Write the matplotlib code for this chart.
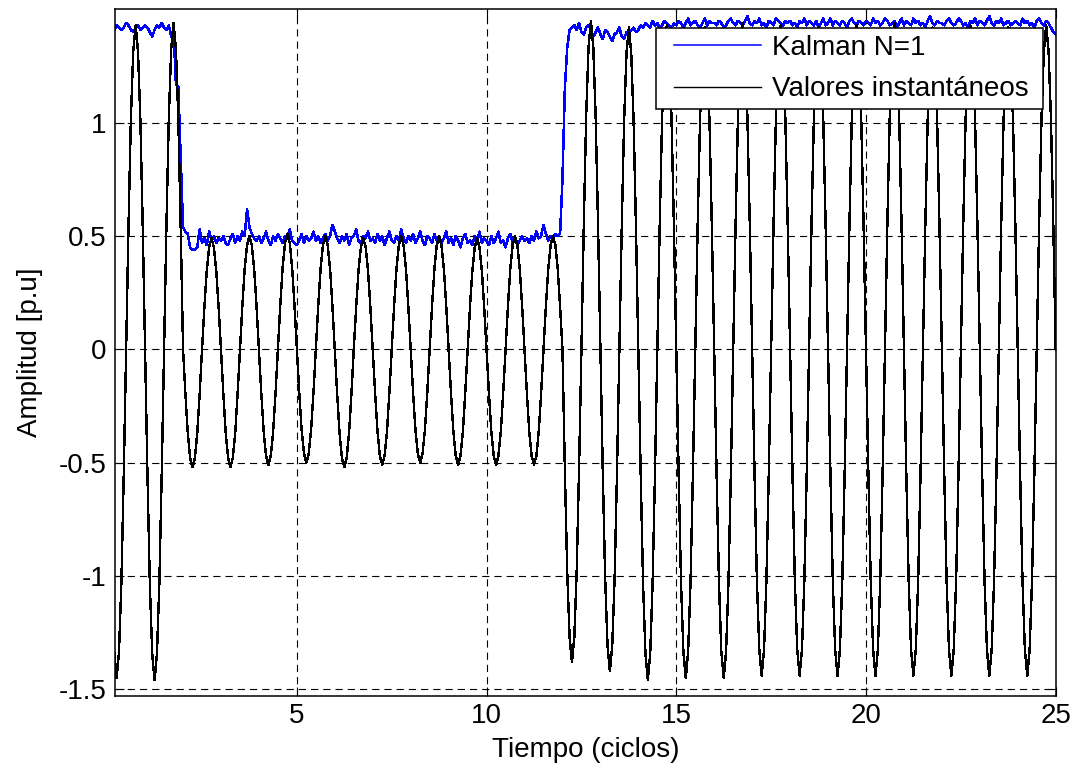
import numpy as np
import matplotlib.pyplot as plt
from matplotlib.legend_handler import HandlerLine2D

plt.rcParams['font.family'] = ['Liberation Sans', 'DejaVu Sans']
plt.rcParams['axes.unicode_minus'] = False
plt.rcParams['lines.scale_dashes'] = False

# 16 muestras por ciclo, 25 ciclos
muestras_ciclo = 16
n_ciclos = 25

# forma relativa de un ciclo (nivel de cada muestra)
forma_ciclo = [0.0, -0.38, -0.71, -0.92, -1.0, -0.92, -0.71, -0.38,
               0.0, 0.38, 0.71, 0.92, 1.0, 0.92, 0.71, 0.38]

# picos positivos y valles de cada ciclo [p.u]
picos = [1.43, 1.44, 0.49, 0.50, 0.51, 0.50, 0.49, 0.50, 0.50, 0.49, 0.50, 0.50,
         1.45, 1.42, 1.43, 1.42, 1.44, 1.43, 1.42, 1.43, 1.44, 1.42, 1.43, 1.42, 1.43]
valles = [-1.45, -1.46, -0.52, -0.52, -0.51, -0.50, -0.52, -0.51, -0.50, -0.51, -0.51, -0.51,
          -1.38, -1.42, -1.46, -1.45, -1.45, -1.44, -1.44, -1.44, -1.44, -1.44, -1.44, -1.44, -1.44]

# estimacion de Kalman (N=1), en centesimas de p.u, una fila por ciclo
kalman_cent = [
    [139, 138, 140, 141, 143, 142, 141, 142, 144, 143, 141, 140, 142, 143, 141, 142],
    [143, 142, 140, 138, 141, 143, 142, 144, 142, 141, 143, 138, 141, 117, 116, 85],
    [54, 52, 51, 45, 44, 44, 45, 53, 47, 49, 46, 52, 48, 50, 47, 49],
    [48, 50, 47, 46, 49, 51, 47, 50, 48, 52, 50, 62, 54, 51, 49, 48],
    [50, 47, 49, 52, 48, 46, 50, 48, 51, 49, 47, 50, 49, 53, 48, 47],
    [46, 48, 51, 47, 50, 48, 49, 52, 48, 50, 47, 49, 51, 48, 50, 55],
    [52, 49, 47, 50, 48, 51, 46, 49, 50, 53, 48, 47, 50, 49, 52, 48],
    [49, 47, 51, 48, 50, 46, 49, 52, 48, 47, 50, 48, 53, 49, 47, 50],
    [48, 51, 47, 49, 52, 48, 46, 50, 49, 47, 51, 48, 50, 47, 49, 52],
    [47, 49, 46, 50, 48, 45, 49, 51, 47, 48, 46, 50, 48, 52, 47, 49],
    [48, 46, 50, 47, 49, 52, 47, 48, 45, 49, 51, 47, 49, 46, 48, 50],
    [48, 49, 47, 50, 48, 52, 49, 50, 55, 51, 48, 50, 49, 51, 50, 51],
    [75, 115, 133, 141, 142, 143, 141, 144, 140, 139, 142, 143, 141, 138, 140, 142],
    [139, 137, 141, 140, 138, 136, 139, 140, 142, 138, 137, 140, 139, 141, 142, 140],
    [141, 143, 142, 144, 143, 142, 145, 143, 144, 142, 143, 145, 144, 143, 142, 144],
    [143, 145, 144, 142, 144, 146, 143, 144, 145, 143, 142, 144, 146, 143, 145, 144],
    [144, 143, 145, 144, 142, 143, 145, 146, 144, 143, 145, 144, 143, 145, 147, 144],
    [143, 145, 144, 146, 143, 144, 142, 145, 144, 143, 146, 145, 144, 143, 145, 144],
    [145, 143, 144, 142, 145, 144, 146, 143, 145, 144, 143, 145, 142, 144, 146, 143],
    [144, 146, 143, 145, 144, 143, 145, 144, 142, 145, 146, 144, 143, 145, 144, 143],
    [145, 144, 143, 146, 144, 145, 143, 144, 146, 145, 143, 144, 145, 142, 144, 146],
    [143, 145, 144, 143, 146, 144, 145, 143, 144, 142, 145, 147, 144, 143, 145, 144],
    [144, 143, 145, 146, 144, 143, 144, 146, 145, 143, 144, 142, 145, 144, 146, 143],
    [145, 144, 143, 145, 147, 144, 143, 145, 144, 146, 143, 144, 145, 143, 144, 145],
    [144, 143, 146, 144, 145, 143, 144, 142, 145, 146, 144, 143, 145, 144, 142, 140, 139],
]

x_ticks = [5, 10, 15, 20, 25]
y_ticks = [-1.5, -1, -0.5, 0, 0.5, 1]
y_etiquetas = ['-1.5', '-1', '-0.5', '0', '0.5', '1']

# valores instantaneos muestra a muestra
valores = []
for k in range(n_ciclos):
    for f in forma_ciclo:
        if f > 0:
            valores.append(f * picos[k])
        else:
            valores.append(f * abs(valles[k]))
valores.append(forma_ciclo[0])
valores = np.array(valores)
kalman = np.concatenate([np.array(fila) for fila in kalman_cent]) / 100.0
t = np.arange(len(valores)) / muestras_ciclo


class LineaDesplazada(HandlerLine2D):
    # deja un margen a la izquierda de la linea de la leyenda
    def create_artists(self, legend, orig_handle, xdescent, ydescent,
                       width, height, fontsize, trans):
        arts = super().create_artists(legend, orig_handle, xdescent, ydescent,
                                      width, height, fontsize, trans)
        for a in arts:
            xd = np.asarray(a.get_xdata(), dtype=float)
            if len(xd) > 1:
                xd[0] = xd[0] + 0.4 * fontsize
                a.set_xdata(xd)
        return arts


fig = plt.figure(figsize=(10.77, 7.68), dpi=100)
ax = fig.add_axes([0.10724, 0.09414, 0.87298, 0.89414])

ax.plot(t, kalman, color='#0000ff', lw=1.1, antialiased=False, label='Kalman N=1')
ax.plot(t, valores, color='black', lw=1.0, antialiased=False, label='Valores instantáneos\u00a0')

ax.set_xlim(0.22, 25.0)
ax.set_ylim(-1.528, 1.502)
ax.set_xticks(x_ticks)
ax.set_yticks(y_ticks, y_etiquetas)
ax.tick_params(direction='in', length=6.5, width=0.8, top=True, right=True,
               labelsize=20, colors='black')
ax.tick_params(axis='x', pad=5)
ax.tick_params(axis='y', pad=6.5)
ax.grid(True, color='black', linestyle=(0, (5.2, 3.6)), lw=0.8)
ax.set_axisbelow(True)
for s in ax.spines.values():
    s.set_linewidth(1.1)

ax.set_xlabel('Tiempo (ciclos)', fontsize=20, labelpad=6)
ax.set_ylabel('Amplitud [p.u]', fontsize=20, labelpad=11)

leg = ax.legend(loc='upper right', bbox_to_anchor=(0.9865, 0.972), borderaxespad=0,
                fontsize=20, fancybox=False, framealpha=1, edgecolor='black',
                borderpad=0.25, labelspacing=0.55, handlelength=3.55, handletextpad=0.38,
                handler_map={plt.Line2D: LineaDesplazada()})
leg.get_frame().set_linewidth(1.1)

fig.savefig('out.png', dpi=100)
